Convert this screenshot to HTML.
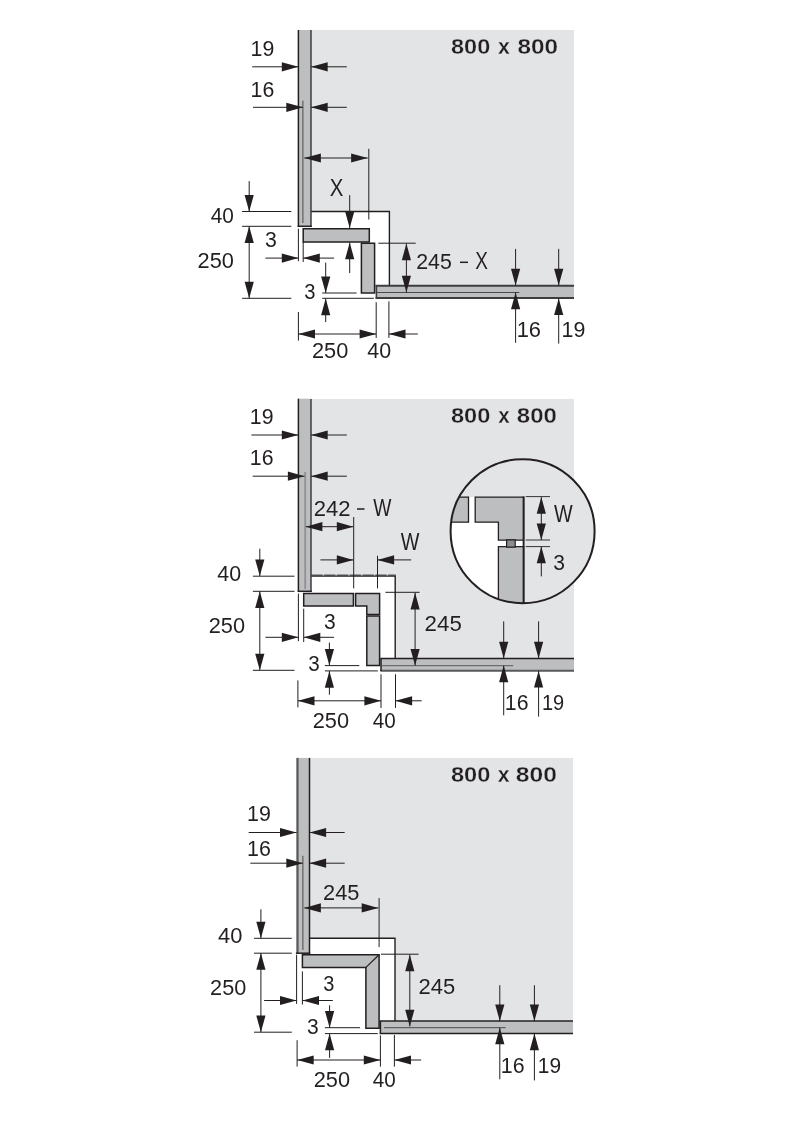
<!DOCTYPE html>
<html><head><meta charset="utf-8"><title>Corner cabinet dimensions</title>
<style>
html,body{margin:0;padding:0;background:#fff;}
body{width:794px;height:1123px;overflow:hidden;}
#sheet{width:794px;height:1123px;will-change:transform;background:#fff;}
svg{display:block;}
text{font-family:"Liberation Sans",sans-serif;fill:#231f20;}
</style></head><body>
<div id="sheet"><svg width="794" height="1123" viewBox="0 0 794 1123">
<rect width="794" height="1123" fill="#fff"/>
<polygon points="311.10,30.00 574.00,30.00 574.00,292.00 389.40,292.00 389.40,211.50 311.10,211.50" fill="#e3e4e6" stroke="none" stroke-width="0" stroke-linejoin="miter"/>
<polyline points="311.10,211.50 389.40,211.50 389.40,286.00" fill="none" stroke="#231f20" stroke-width="1.4" stroke-linejoin="miter"/>
<rect x="298.4" y="30" width="12.7" height="196.3" fill="#bcbec0"/>
<line x1="298.40" y1="30.00" x2="298.40" y2="227.00" stroke="#231f20" stroke-width="1.5"/>
<line x1="311.00" y1="30.00" x2="311.00" y2="227.00" stroke="#333335" stroke-width="1.4"/>
<line x1="297.70" y1="226.30" x2="311.80" y2="226.30" stroke="#231f20" stroke-width="1.5"/>
<line x1="302.90" y1="100.70" x2="302.90" y2="223.00" stroke="#4a4a4c" stroke-width="1.0"/>
<rect x="376.2" y="285.6" width="197.8" height="12.7" fill="#bcbec0"/>
<line x1="375.50" y1="285.85" x2="574.00" y2="285.85" stroke="#3d3d3f" stroke-width="2.0"/>
<line x1="375.50" y1="297.95" x2="574.00" y2="297.95" stroke="#3d3d3f" stroke-width="2.0"/>
<line x1="376.40" y1="285.60" x2="376.40" y2="298.30" stroke="#3d3d3f" stroke-width="1.6"/>
<line x1="377.00" y1="292.50" x2="519.30" y2="292.50" stroke="#4a4a4c" stroke-width="1.0"/>
<polygon points="303.20,228.70 369.30,228.70 369.30,241.90 303.20,241.90" fill="#bcbec0" stroke="#231f20" stroke-width="1.5" stroke-linejoin="miter"/>
<polygon points="361.40,243.30 374.60,243.30 374.60,293.00 361.40,293.00" fill="#bcbec0" stroke="#231f20" stroke-width="1.5" stroke-linejoin="miter"/>
<text transform="translate(451.04,54.00) scale(1.0543,1)" font-size="22.3" font-weight="bold" stroke="#e3e4e6" stroke-width="0.3" paint-order="fill stroke">800</text>
<text transform="translate(497.94,54.00) scale(0.9550,1)" font-size="22.3" font-weight="bold" stroke="#e3e4e6" stroke-width="0.3" paint-order="fill stroke">x</text>
<text transform="translate(517.51,54.00) scale(1.0909,1)" font-size="22.3" font-weight="bold" stroke="#e3e4e6" stroke-width="0.3" paint-order="fill stroke">800</text>
<text transform="translate(250.60,56.10) scale(0.9431,1)" font-size="22.6">19</text>
<line x1="252.20" y1="66.80" x2="298.40" y2="66.80" stroke="#231f20" stroke-width="1.0"/>
<polygon points="298.40,66.80 281.80,62.20 281.80,71.40" fill="#231f20"/>
<polygon points="311.10,66.80 327.70,62.20 327.70,71.40" fill="#231f20"/>
<line x1="311.10" y1="66.80" x2="346.80" y2="66.80" stroke="#231f20" stroke-width="1.0"/>
<text transform="translate(250.61,96.90) scale(0.9407,1)" font-size="22.6">16</text>
<line x1="253.00" y1="107.30" x2="302.90" y2="107.30" stroke="#231f20" stroke-width="1.0"/>
<polygon points="302.90,107.30 286.30,102.70 286.30,111.90" fill="#231f20"/>
<polygon points="311.10,107.30 327.70,102.70 327.70,111.90" fill="#231f20"/>
<line x1="311.10" y1="107.30" x2="346.80" y2="107.30" stroke="#231f20" stroke-width="1.0"/>
<line x1="368.80" y1="148.80" x2="368.80" y2="219.50" stroke="#231f20" stroke-width="1.0"/>
<line x1="304.30" y1="158.00" x2="367.70" y2="158.00" stroke="#231f20" stroke-width="1.0"/>
<polygon points="304.30,158.00 320.90,153.40 320.90,162.60" fill="#231f20"/>
<polygon points="367.70,158.00 351.10,153.40 351.10,162.60" fill="#231f20"/>
<text transform="translate(329.74,196.10) scale(0.9027,1.04)" font-size="22.6">X</text>
<line x1="349.70" y1="195.10" x2="349.70" y2="228.70" stroke="#231f20" stroke-width="1.0"/>
<polygon points="349.70,228.00 345.10,211.40 354.30,211.40" fill="#231f20"/>
<polygon points="349.70,242.60 345.10,259.20 354.30,259.20" fill="#231f20"/>
<line x1="349.70" y1="242.60" x2="349.70" y2="273.10" stroke="#231f20" stroke-width="1.0"/>
<line x1="242.10" y1="211.50" x2="291.30" y2="211.50" stroke="#231f20" stroke-width="1.0"/>
<line x1="242.10" y1="226.30" x2="291.30" y2="226.30" stroke="#231f20" stroke-width="1.0"/>
<line x1="242.10" y1="298.30" x2="291.30" y2="298.30" stroke="#231f20" stroke-width="1.0"/>
<line x1="249.20" y1="181.10" x2="249.20" y2="211.50" stroke="#231f20" stroke-width="1.0"/>
<polygon points="249.20,211.50 244.60,194.90 253.80,194.90" fill="#231f20"/>
<polygon points="249.20,226.30 244.60,242.90 253.80,242.90" fill="#231f20"/>
<polygon points="249.20,298.30 244.60,281.70 253.80,281.70" fill="#231f20"/>
<line x1="249.20" y1="226.30" x2="249.20" y2="298.30" stroke="#231f20" stroke-width="1.0"/>
<text transform="translate(210.73,223.30) scale(0.9229,1)" font-size="22.6">40</text>
<text transform="translate(197.61,267.50) scale(0.9634,1)" font-size="22.6">250</text>
<text transform="translate(265.10,246.60) scale(0.9408,1)" font-size="22.6">3</text>
<line x1="298.40" y1="228.70" x2="298.40" y2="261.20" stroke="#231f20" stroke-width="1.0"/>
<line x1="303.20" y1="242.00" x2="303.20" y2="262.00" stroke="#231f20" stroke-width="1.0"/>
<line x1="265.40" y1="258.10" x2="298.40" y2="258.10" stroke="#231f20" stroke-width="1.0"/>
<polygon points="298.40,258.10 281.80,253.50 281.80,262.70" fill="#231f20"/>
<polygon points="303.20,258.10 319.80,253.50 319.80,262.70" fill="#231f20"/>
<line x1="303.20" y1="258.10" x2="334.10" y2="258.10" stroke="#231f20" stroke-width="1.0"/>
<text transform="translate(304.24,298.50) scale(0.8943,1)" font-size="22.6">3</text>
<line x1="322.20" y1="293.00" x2="356.60" y2="293.00" stroke="#231f20" stroke-width="1.0"/>
<line x1="322.20" y1="298.30" x2="373.80" y2="298.30" stroke="#231f20" stroke-width="1.0"/>
<line x1="325.70" y1="262.60" x2="325.70" y2="293.00" stroke="#231f20" stroke-width="1.0"/>
<polygon points="325.70,293.00 321.10,276.40 330.30,276.40" fill="#231f20"/>
<polygon points="325.70,298.60 321.10,315.20 330.30,315.20" fill="#231f20"/>
<line x1="325.70" y1="298.60" x2="325.70" y2="322.10" stroke="#231f20" stroke-width="1.0"/>
<line x1="298.40" y1="312.00" x2="298.40" y2="340.60" stroke="#231f20" stroke-width="1.0"/>
<line x1="376.20" y1="302.20" x2="376.20" y2="337.90" stroke="#231f20" stroke-width="1.0"/>
<line x1="388.90" y1="301.40" x2="388.90" y2="337.90" stroke="#231f20" stroke-width="1.0"/>
<line x1="298.40" y1="334.00" x2="376.20" y2="334.00" stroke="#231f20" stroke-width="1.0"/>
<polygon points="298.40,334.00 315.00,329.40 315.00,338.60" fill="#231f20"/>
<polygon points="376.20,334.00 359.60,329.40 359.60,338.60" fill="#231f20"/>
<polygon points="388.90,334.00 405.50,329.40 405.50,338.60" fill="#231f20"/>
<line x1="388.90" y1="334.00" x2="417.80" y2="334.00" stroke="#231f20" stroke-width="1.0"/>
<text transform="translate(311.91,358.20) scale(0.9634,1)" font-size="22.6">250</text>
<text transform="translate(367.22,358.20) scale(0.9482,1)" font-size="22.6">40</text>
<line x1="378.30" y1="243.20" x2="415.70" y2="243.20" stroke="#231f20" stroke-width="1.0"/>
<line x1="406.40" y1="243.60" x2="406.40" y2="292.30" stroke="#231f20" stroke-width="1.0"/>
<polygon points="406.40,243.60 401.80,260.20 411.00,260.20" fill="#231f20"/>
<polygon points="406.40,292.30 401.80,275.70 411.00,275.70" fill="#231f20"/>
<text transform="translate(416.13,269.00) scale(0.9453,1)" font-size="22.6">245</text>
<line x1="460.00" y1="262.30" x2="468.00" y2="262.30" stroke="#231f20" stroke-width="1.5"/>
<text transform="translate(475.17,269.00) scale(0.8388,1.04)" font-size="22.6">X</text>
<line x1="515.60" y1="248.90" x2="515.60" y2="285.40" stroke="#231f20" stroke-width="1.0"/>
<polygon points="515.60,285.40 511.00,268.80 520.20,268.80" fill="#231f20"/>
<polygon points="515.60,292.60 511.00,309.20 520.20,309.20" fill="#231f20"/>
<line x1="515.60" y1="292.60" x2="515.60" y2="342.80" stroke="#231f20" stroke-width="1.0"/>
<line x1="558.70" y1="248.90" x2="558.70" y2="285.40" stroke="#231f20" stroke-width="1.0"/>
<polygon points="558.70,285.40 554.10,268.80 563.30,268.80" fill="#231f20"/>
<polygon points="558.70,298.40 554.10,315.00 563.30,315.00" fill="#231f20"/>
<line x1="558.70" y1="298.40" x2="558.70" y2="343.60" stroke="#231f20" stroke-width="1.0"/>
<text transform="translate(516.66,337.10) scale(0.9674,1)" font-size="22.6">16</text>
<text transform="translate(561.59,337.10) scale(0.9475,1)" font-size="22.6">19</text>
<polygon points="311.10,399.00 574.00,399.00 574.00,665.00 395.20,665.00 395.20,575.90 311.10,575.90" fill="#e3e4e6" stroke="none" stroke-width="0" stroke-linejoin="miter"/>
<polyline points="311.10,576.10 395.20,576.10 395.20,659.00" fill="none" stroke="#231f20" stroke-width="1.4" stroke-linejoin="miter"/>
<line x1="311.3" y1="575.1" x2="395.9" y2="575.1" stroke="#231f20" stroke-width="0.9" stroke-dasharray="11.3 1.5"/>
<rect x="298.4" y="398.7" width="12.7" height="192.6" fill="#bcbec0"/>
<line x1="298.40" y1="398.70" x2="298.40" y2="592.00" stroke="#231f20" stroke-width="1.5"/>
<line x1="311.00" y1="399.00" x2="311.00" y2="592.00" stroke="#333335" stroke-width="1.4"/>
<line x1="297.70" y1="591.30" x2="311.80" y2="591.30" stroke="#231f20" stroke-width="1.5"/>
<line x1="305.20" y1="472.00" x2="305.20" y2="589.00" stroke="#8f9194" stroke-width="1.8"/>
<rect x="381" y="658.4" width="193" height="12.5" fill="#bcbec0"/>
<line x1="380.30" y1="658.40" x2="574.00" y2="658.40" stroke="#231f20" stroke-width="1.5"/>
<line x1="380.30" y1="670.70" x2="574.00" y2="670.70" stroke="#58595b" stroke-width="1.9"/>
<line x1="381.00" y1="658.40" x2="381.00" y2="670.90" stroke="#231f20" stroke-width="1.5"/>
<line x1="382.00" y1="665.60" x2="513.30" y2="665.60" stroke="#6d6e71" stroke-width="1.3"/>
<polygon points="303.70,593.60 353.40,593.60 353.40,606.10 303.70,606.10" fill="#bcbec0" stroke="#231f20" stroke-width="1.5" stroke-linejoin="miter"/>
<polygon points="355.60,593.60 379.60,593.60 379.60,614.60 366.80,614.60 366.80,606.10 355.60,606.10" fill="#bcbec0" stroke="#231f20" stroke-width="1.5" stroke-linejoin="miter"/>
<polygon points="366.80,616.00 379.60,616.00 379.60,665.60 366.80,665.60" fill="#bcbec0" stroke="#231f20" stroke-width="1.5" stroke-linejoin="miter"/>
<text transform="translate(450.93,422.70) scale(1.0599,1)" font-size="22.3" font-weight="bold" stroke="#e3e4e6" stroke-width="0.3" paint-order="fill stroke">800</text>
<text transform="translate(498.25,422.70) scale(0.9218,1)" font-size="22.3" font-weight="bold" stroke="#e3e4e6" stroke-width="0.3" paint-order="fill stroke">x</text>
<text transform="translate(516.82,422.70) scale(1.0768,1)" font-size="22.3" font-weight="bold" stroke="#e3e4e6" stroke-width="0.3" paint-order="fill stroke">800</text>
<text transform="translate(249.80,424.30) scale(0.9431,1)" font-size="22.6">19</text>
<line x1="251.40" y1="435.00" x2="298.40" y2="435.00" stroke="#231f20" stroke-width="1.0"/>
<polygon points="298.40,435.00 281.80,430.40 281.80,439.60" fill="#231f20"/>
<polygon points="311.10,435.00 327.70,430.40 327.70,439.60" fill="#231f20"/>
<line x1="311.10" y1="435.00" x2="346.80" y2="435.00" stroke="#231f20" stroke-width="1.0"/>
<text transform="translate(249.81,465.00) scale(0.9407,1)" font-size="22.6">16</text>
<line x1="252.70" y1="476.20" x2="304.50" y2="476.20" stroke="#231f20" stroke-width="1.0"/>
<polygon points="304.50,476.20 287.90,471.60 287.90,480.80" fill="#231f20"/>
<polygon points="311.10,476.20 327.70,471.60 327.70,480.80" fill="#231f20"/>
<line x1="311.10" y1="476.20" x2="346.80" y2="476.20" stroke="#231f20" stroke-width="1.0"/>
<text transform="translate(313.70,515.90) scale(0.9767,1)" font-size="22.6">242</text>
<line x1="357.00" y1="509.00" x2="364.50" y2="509.00" stroke="#231f20" stroke-width="1.5"/>
<text transform="translate(373.30,515.90) scale(0.8518,1.04)" font-size="22.6">W</text>
<line x1="353.70" y1="517.00" x2="353.70" y2="588.40" stroke="#231f20" stroke-width="1.0"/>
<line x1="305.80" y1="526.70" x2="353.40" y2="526.70" stroke="#231f20" stroke-width="1.0"/>
<polygon points="305.80,526.70 322.40,522.10 322.40,531.30" fill="#231f20"/>
<polygon points="353.40,526.70 336.80,522.10 336.80,531.30" fill="#231f20"/>
<line x1="377.50" y1="555.80" x2="377.50" y2="588.40" stroke="#231f20" stroke-width="1.0"/>
<line x1="320.40" y1="559.90" x2="353.40" y2="559.90" stroke="#231f20" stroke-width="1.0"/>
<polygon points="353.40,559.90 336.80,555.30 336.80,564.50" fill="#231f20"/>
<polygon points="377.50,559.90 394.10,555.30 394.10,564.50" fill="#231f20"/>
<line x1="377.50" y1="559.90" x2="411.20" y2="559.90" stroke="#231f20" stroke-width="1.0"/>
<text transform="translate(400.70,549.60) scale(0.8755,1.04)" font-size="22.6">W</text>
<line x1="252.90" y1="576.20" x2="294.50" y2="576.20" stroke="#231f20" stroke-width="1.0"/>
<line x1="252.90" y1="591.30" x2="294.50" y2="591.30" stroke="#231f20" stroke-width="1.0"/>
<line x1="252.90" y1="670.30" x2="294.50" y2="670.30" stroke="#231f20" stroke-width="1.0"/>
<line x1="259.80" y1="548.70" x2="259.80" y2="576.00" stroke="#231f20" stroke-width="1.0"/>
<polygon points="259.80,576.00 255.20,559.40 264.40,559.40" fill="#231f20"/>
<polygon points="259.80,591.30 255.20,607.90 264.40,607.90" fill="#231f20"/>
<polygon points="259.80,670.30 255.20,653.70 264.40,653.70" fill="#231f20"/>
<line x1="259.80" y1="591.30" x2="259.80" y2="670.30" stroke="#231f20" stroke-width="1.0"/>
<text transform="translate(217.32,580.80) scale(0.9482,1)" font-size="22.6">40</text>
<text transform="translate(208.71,632.90) scale(0.9634,1)" font-size="22.6">250</text>
<text transform="translate(324.11,629.20) scale(0.9315,1)" font-size="22.6">3</text>
<line x1="298.40" y1="593.60" x2="298.40" y2="641.20" stroke="#231f20" stroke-width="1.0"/>
<line x1="303.70" y1="608.70" x2="303.70" y2="642.00" stroke="#231f20" stroke-width="1.0"/>
<line x1="265.40" y1="637.30" x2="298.40" y2="637.30" stroke="#231f20" stroke-width="1.0"/>
<polygon points="298.40,637.30 281.80,632.70 281.80,641.90" fill="#231f20"/>
<polygon points="303.70,637.30 320.30,632.70 320.30,641.90" fill="#231f20"/>
<line x1="303.70" y1="637.30" x2="334.10" y2="637.30" stroke="#231f20" stroke-width="1.0"/>
<text transform="translate(308.23,670.70) scale(0.9129,1)" font-size="22.6">3</text>
<line x1="324.90" y1="665.60" x2="359.30" y2="665.60" stroke="#231f20" stroke-width="1.0"/>
<line x1="324.90" y1="670.90" x2="377.80" y2="670.90" stroke="#231f20" stroke-width="1.0"/>
<line x1="329.40" y1="642.60" x2="329.40" y2="665.60" stroke="#231f20" stroke-width="1.0"/>
<polygon points="329.40,665.60 324.80,649.00 334.00,649.00" fill="#231f20"/>
<polygon points="329.40,671.10 324.80,687.70 334.00,687.70" fill="#231f20"/>
<line x1="329.40" y1="671.10" x2="329.40" y2="694.70" stroke="#231f20" stroke-width="1.0"/>
<line x1="297.90" y1="680.40" x2="297.90" y2="707.40" stroke="#231f20" stroke-width="1.0"/>
<line x1="381.00" y1="674.30" x2="381.00" y2="707.90" stroke="#231f20" stroke-width="1.0"/>
<line x1="395.50" y1="674.30" x2="395.50" y2="707.90" stroke="#231f20" stroke-width="1.0"/>
<line x1="297.90" y1="700.80" x2="381.00" y2="700.80" stroke="#231f20" stroke-width="1.0"/>
<polygon points="297.90,700.80 314.50,696.20 314.50,705.40" fill="#231f20"/>
<polygon points="381.00,700.80 364.40,696.20 364.40,705.40" fill="#231f20"/>
<polygon points="395.50,700.80 412.10,696.20 412.10,705.40" fill="#231f20"/>
<line x1="395.50" y1="700.80" x2="421.70" y2="700.80" stroke="#231f20" stroke-width="1.0"/>
<text transform="translate(312.71,727.60) scale(0.9634,1)" font-size="22.6">250</text>
<text transform="translate(372.84,727.60) scale(0.9145,1)" font-size="22.6">40</text>
<line x1="385.40" y1="592.30" x2="419.60" y2="592.30" stroke="#231f20" stroke-width="1.0"/>
<line x1="415.10" y1="592.80" x2="415.10" y2="665.60" stroke="#231f20" stroke-width="1.0"/>
<polygon points="415.10,592.80 410.50,609.40 419.70,609.40" fill="#231f20"/>
<polygon points="415.10,665.60 410.50,649.00 419.70,649.00" fill="#231f20"/>
<text transform="translate(424.58,631.10) scale(0.9873,1)" font-size="22.6">245</text>
<line x1="503.70" y1="621.40" x2="503.70" y2="658.40" stroke="#231f20" stroke-width="1.0"/>
<polygon points="503.70,658.40 499.10,641.80 508.30,641.80" fill="#231f20"/>
<polygon points="503.70,665.60 499.10,682.20 508.30,682.20" fill="#231f20"/>
<line x1="503.70" y1="665.60" x2="503.70" y2="715.30" stroke="#231f20" stroke-width="1.0"/>
<line x1="538.60" y1="621.40" x2="538.60" y2="658.40" stroke="#231f20" stroke-width="1.0"/>
<polygon points="538.60,658.40 534.00,641.80 543.20,641.80" fill="#231f20"/>
<polygon points="538.60,670.90 534.00,687.50 543.20,687.50" fill="#231f20"/>
<line x1="538.60" y1="670.90" x2="538.60" y2="716.60" stroke="#231f20" stroke-width="1.0"/>
<text transform="translate(504.81,709.90) scale(0.9407,1)" font-size="22.6">16</text>
<text transform="translate(541.90,709.90) scale(0.8850,1)" font-size="22.6">19</text>
<clipPath id="cc"><circle cx="522.6" cy="531.2" r="72"/></clipPath>
<circle cx="522.6" cy="531.2" r="72" fill="#e3e4e6"/>
<g clip-path="url(#cc)">
<rect x="440" y="497.1" width="83.6" height="120" fill="#fff"/>
<polygon points="440.00,497.10 468.50,497.10 468.50,522.20 440.00,522.20" fill="#bcbec0" stroke="#231f20" stroke-width="1.3" stroke-linejoin="miter"/>
<polygon points="475.20,497.10 523.60,497.10 523.60,540.20 498.40,540.20 498.40,522.20 475.20,522.20" fill="#bcbec0" stroke="#231f20" stroke-width="1.3" stroke-linejoin="miter"/>
<polygon points="498.40,546.60 523.60,546.60 523.60,620.00 498.40,620.00" fill="#bcbec0" stroke="#231f20" stroke-width="1.3" stroke-linejoin="miter"/>
<polygon points="506.60,539.90 515.20,539.90 515.20,547.10 506.60,547.10" fill="#8a8c8f" stroke="#231f20" stroke-width="1.2" stroke-linejoin="miter"/>
<line x1="523.60" y1="496.50" x2="523.60" y2="620.00" stroke="#231f20" stroke-width="1.9"/>
</g>
<circle cx="522.6" cy="531.2" r="72" fill="none" stroke="#231f20" stroke-width="2.0"/>
<line x1="525.70" y1="496.60" x2="550.00" y2="496.60" stroke="#231f20" stroke-width="0.9"/>
<line x1="525.70" y1="540.00" x2="550.00" y2="540.00" stroke="#231f20" stroke-width="0.9"/>
<line x1="525.70" y1="546.60" x2="550.00" y2="546.60" stroke="#231f20" stroke-width="0.9"/>
<line x1="541.30" y1="497.10" x2="541.30" y2="540.00" stroke="#231f20" stroke-width="1.0"/>
<polygon points="541.30,497.10 536.70,513.70 545.90,513.70" fill="#231f20"/>
<polygon points="541.30,540.00 536.70,523.40 545.90,523.40" fill="#231f20"/>
<polygon points="541.30,546.60 536.70,563.20 545.90,563.20" fill="#231f20"/>
<line x1="541.30" y1="546.60" x2="541.30" y2="576.40" stroke="#231f20" stroke-width="1.0"/>
<text transform="translate(553.90,521.80) scale(0.8755,1.04)" font-size="22.6">W</text>
<text transform="translate(553.21,570.20) scale(0.9315,1)" font-size="22.6">3</text>
<polygon points="309.50,757.90 573.00,757.90 573.00,1028.00 395.00,1028.00 395.00,938.30 309.50,938.30" fill="#e3e4e6" stroke="none" stroke-width="0" stroke-linejoin="miter"/>
<polyline points="309.50,938.30 395.00,938.30 395.00,1021.50" fill="none" stroke="#231f20" stroke-width="1.4" stroke-linejoin="miter"/>
<rect x="296.6" y="757.9" width="12.9" height="195.3" fill="#bcbec0"/>
<line x1="297.50" y1="757.90" x2="297.50" y2="953.90" stroke="#58595b" stroke-width="2.2"/>
<line x1="309.50" y1="757.90" x2="309.50" y2="953.90" stroke="#231f20" stroke-width="1.5"/>
<line x1="295.90" y1="953.20" x2="310.20" y2="953.20" stroke="#231f20" stroke-width="1.5"/>
<line x1="302.90" y1="855.80" x2="302.90" y2="950.00" stroke="#4a4a4c" stroke-width="1.0"/>
<rect x="380.4" y="1021.1" width="192.6" height="12.5" fill="#bcbec0"/>
<line x1="379.70" y1="1021.10" x2="573.00" y2="1021.10" stroke="#231f20" stroke-width="1.5"/>
<line x1="379.70" y1="1033.60" x2="573.00" y2="1033.60" stroke="#231f20" stroke-width="1.5"/>
<line x1="380.40" y1="1021.10" x2="380.40" y2="1033.60" stroke="#231f20" stroke-width="1.5"/>
<line x1="384.00" y1="1027.70" x2="505.60" y2="1027.70" stroke="#4a4a4c" stroke-width="1.0"/>
<polygon points="302.40,954.70 379.10,954.70 379.10,1028.30 365.90,1028.30 365.90,967.40 302.40,967.40" fill="#bcbec0" stroke="#231f20" stroke-width="1.5" stroke-linejoin="miter"/>
<line x1="365.90" y1="967.40" x2="379.10" y2="954.70" stroke="#231f20" stroke-width="1.2"/>
<text transform="translate(450.93,782.10) scale(1.0599,1)" font-size="22.3" font-weight="bold" stroke="#e3e4e6" stroke-width="0.3" paint-order="fill stroke">800</text>
<text transform="translate(497.84,782.10) scale(0.9550,1)" font-size="22.3" font-weight="bold" stroke="#e3e4e6" stroke-width="0.3" paint-order="fill stroke">x</text>
<text transform="translate(515.80,782.10) scale(1.1049,1)" font-size="22.3" font-weight="bold" stroke="#e3e4e6" stroke-width="0.3" paint-order="fill stroke">800</text>
<text transform="translate(247.09,821.30) scale(0.9475,1)" font-size="22.6">19</text>
<line x1="248.70" y1="832.50" x2="296.60" y2="832.50" stroke="#231f20" stroke-width="1.0"/>
<polygon points="296.60,832.50 280.00,827.90 280.00,837.10" fill="#231f20"/>
<polygon points="309.50,832.50 326.10,827.90 326.10,837.10" fill="#231f20"/>
<line x1="309.50" y1="832.50" x2="344.70" y2="832.50" stroke="#231f20" stroke-width="1.0"/>
<text transform="translate(247.10,856.20) scale(0.9451,1)" font-size="22.6">16</text>
<line x1="250.30" y1="863.20" x2="302.90" y2="863.20" stroke="#231f20" stroke-width="1.0"/>
<polygon points="302.90,863.20 286.30,858.60 286.30,867.80" fill="#231f20"/>
<polygon points="309.50,863.20 326.10,858.60 326.10,867.80" fill="#231f20"/>
<line x1="309.50" y1="863.20" x2="344.70" y2="863.20" stroke="#231f20" stroke-width="1.0"/>
<text transform="translate(323.01,900.40) scale(0.9649,1)" font-size="22.6">245</text>
<line x1="379.10" y1="898.10" x2="379.10" y2="947.10" stroke="#231f20" stroke-width="1.0"/>
<line x1="304.30" y1="907.90" x2="378.30" y2="907.90" stroke="#231f20" stroke-width="1.0"/>
<polygon points="304.30,907.90 320.90,903.30 320.90,912.50" fill="#231f20"/>
<polygon points="378.30,907.90 361.70,903.30 361.70,912.50" fill="#231f20"/>
<line x1="254.00" y1="938.30" x2="291.80" y2="938.30" stroke="#231f20" stroke-width="1.0"/>
<line x1="254.00" y1="953.20" x2="291.80" y2="953.20" stroke="#231f20" stroke-width="1.0"/>
<line x1="254.00" y1="1032.20" x2="291.80" y2="1032.20" stroke="#231f20" stroke-width="1.0"/>
<line x1="260.90" y1="909.30" x2="260.90" y2="938.30" stroke="#231f20" stroke-width="1.0"/>
<polygon points="260.90,938.30 256.30,921.70 265.50,921.70" fill="#231f20"/>
<polygon points="260.90,953.20 256.30,969.80 265.50,969.80" fill="#231f20"/>
<polygon points="260.90,1032.20 256.30,1015.60 265.50,1015.60" fill="#231f20"/>
<line x1="260.90" y1="953.20" x2="260.90" y2="1032.20" stroke="#231f20" stroke-width="1.0"/>
<text transform="translate(218.11,943.20) scale(0.9692,1)" font-size="22.6">40</text>
<text transform="translate(210.11,995.10) scale(0.9606,1)" font-size="22.6">250</text>
<text transform="translate(323.35,991.10) scale(0.8850,1)" font-size="22.6">3</text>
<line x1="296.60" y1="954.70" x2="296.60" y2="1003.90" stroke="#231f20" stroke-width="1.0"/>
<line x1="302.40" y1="971.40" x2="302.40" y2="1004.50" stroke="#231f20" stroke-width="1.0"/>
<line x1="264.10" y1="1000.50" x2="296.60" y2="1000.50" stroke="#231f20" stroke-width="1.0"/>
<polygon points="296.60,1000.50 280.00,995.90 280.00,1005.10" fill="#231f20"/>
<polygon points="302.40,1000.50 319.00,995.90 319.00,1005.10" fill="#231f20"/>
<line x1="302.40" y1="1000.50" x2="332.80" y2="1000.50" stroke="#231f20" stroke-width="1.0"/>
<text transform="translate(306.91,1034.00) scale(0.9315,1)" font-size="22.6">3</text>
<line x1="324.90" y1="1027.70" x2="360.10" y2="1027.70" stroke="#231f20" stroke-width="1.0"/>
<line x1="324.90" y1="1033.60" x2="377.80" y2="1033.60" stroke="#231f20" stroke-width="1.0"/>
<line x1="329.60" y1="1005.30" x2="329.60" y2="1027.70" stroke="#231f20" stroke-width="1.0"/>
<polygon points="329.60,1027.70 325.00,1011.10 334.20,1011.10" fill="#231f20"/>
<polygon points="329.60,1033.60 325.00,1050.20 334.20,1050.20" fill="#231f20"/>
<line x1="329.60" y1="1033.60" x2="329.60" y2="1057.90" stroke="#231f20" stroke-width="1.0"/>
<line x1="297.10" y1="1040.20" x2="297.10" y2="1066.60" stroke="#231f20" stroke-width="1.0"/>
<line x1="380.40" y1="1035.40" x2="380.40" y2="1066.60" stroke="#231f20" stroke-width="1.0"/>
<line x1="394.40" y1="1035.00" x2="394.40" y2="1066.60" stroke="#231f20" stroke-width="1.0"/>
<line x1="297.10" y1="1060.00" x2="380.40" y2="1060.00" stroke="#231f20" stroke-width="1.0"/>
<polygon points="297.10,1060.00 313.70,1055.40 313.70,1064.60" fill="#231f20"/>
<polygon points="380.40,1060.00 363.80,1055.40 363.80,1064.60" fill="#231f20"/>
<polygon points="394.40,1060.00 411.00,1055.40 411.00,1064.60" fill="#231f20"/>
<line x1="394.40" y1="1060.00" x2="421.20" y2="1060.00" stroke="#231f20" stroke-width="1.0"/>
<text transform="translate(313.71,1087.40) scale(0.9634,1)" font-size="22.6">250</text>
<text transform="translate(372.84,1087.40) scale(0.9145,1)" font-size="22.6">40</text>
<line x1="381.00" y1="954.20" x2="418.60" y2="954.20" stroke="#231f20" stroke-width="1.0"/>
<line x1="409.80" y1="954.70" x2="409.80" y2="1026.40" stroke="#231f20" stroke-width="1.0"/>
<polygon points="409.80,954.70 405.20,971.30 414.40,971.30" fill="#231f20"/>
<polygon points="409.80,1026.40 405.20,1009.80 414.40,1009.80" fill="#231f20"/>
<text transform="translate(418.50,994.30) scale(0.9733,1)" font-size="22.6">245</text>
<line x1="499.80" y1="985.20" x2="499.80" y2="1021.10" stroke="#231f20" stroke-width="1.0"/>
<polygon points="499.80,1021.10 495.20,1004.50 504.40,1004.50" fill="#231f20"/>
<polygon points="499.80,1027.70 495.20,1044.30 504.40,1044.30" fill="#231f20"/>
<line x1="499.80" y1="1027.70" x2="499.80" y2="1079.30" stroke="#231f20" stroke-width="1.0"/>
<line x1="534.40" y1="985.20" x2="534.40" y2="1021.10" stroke="#231f20" stroke-width="1.0"/>
<polygon points="534.40,1021.10 529.80,1004.50 539.00,1004.50" fill="#231f20"/>
<polygon points="534.40,1033.60 529.80,1050.20 539.00,1050.20" fill="#231f20"/>
<line x1="534.40" y1="1033.60" x2="534.40" y2="1080.40" stroke="#231f20" stroke-width="1.0"/>
<text transform="translate(500.80,1072.80) scale(0.9451,1)" font-size="22.6">16</text>
<text transform="translate(537.83,1072.80) scale(0.9252,1)" font-size="22.6">19</text>
</svg></div>
</body></html>
